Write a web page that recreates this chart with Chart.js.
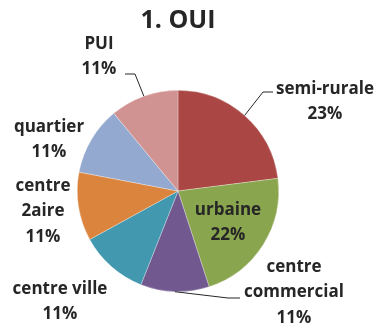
<!DOCTYPE html>
<html>
<head>
<meta charset="utf-8">
<script src="https://cdn.jsdelivr.net/npm/chart.js@4.4.1/dist/chart.umd.min.js"></script>
<style>
  html, body { margin: 0; padding: 0; background: #fff; }
  #wrap { width: 379px; height: 329px; }
</style>
</head>
<body>
<div id="wrap"><canvas id="pieOui"></canvas></div>
<script>
 // categories and shares (%)
 var categories = ["semi-rurale", "urbaine", "centre commercial", "centre ville", "centre 2aire", "quartier", "PUI"];
 var shares = [23, 22, 11, 11, 11, 11, 11];
 var sliceColors = ['#AA4643', '#89A54E', '#71588F', '#4198AF', '#DB843D', '#93A9CF', '#D19392'];

 // how each label is split on lines, where its text block sits, and its leader line
 var labelLines = [["semi-rurale"], ["urbaine"], ["centre", "commercial"], ["centre ville"], ["centre", "2aire"], ["quartier"], ["PUI"]];
 var labelPos = [[325, 89], [228, 210], [294, 267], [60, 289], [43, 186], [49, 127], [99, 44]];
 var leaders = [
   [[263, 92], [273, 92]],
   null,
   [[228, 298], [240, 298]],
   null, null, null,
   [[135, 74], [125, 74]]
 ];

 var FONT = 'bold 17px "Open Sans"';
 var INK = '#262626';

 var pieLabels = {
   id: 'pieLabels',
   afterDatasetsDraw: function(chart) {
     var ctx = chart.ctx;
     var meta = chart.getDatasetMeta(0);
     ctx.save();
     ctx.fillStyle = INK;
     ctx.textAlign = 'center';
     ctx.textBaseline = 'middle';
     ctx.font = 'bold 25px "Open Sans"';
     ctx.fillText("1. OUI", 178, 21);

     // leader lines from the middle of the slice edge
     ctx.strokeStyle = INK;
     ctx.lineWidth = 1;
     meta.data.forEach(function(arc, i) {
       if (!leaders[i]) return;
       var mid = (arc.startAngle + arc.endAngle) / 2;
       var x0 = arc.x + Math.cos(mid) * arc.outerRadius;
       var y0 = arc.y + Math.sin(mid) * arc.outerRadius;
       ctx.beginPath();
       ctx.moveTo(x0, y0);
       leaders[i].forEach(function(p) { ctx.lineTo(p[0], p[1]); });
       ctx.stroke();
     });

     ctx.font = FONT;
     categories.forEach(function(c, i) {
       var lines = labelLines[i].concat([shares[i] + '%']);
       var p = labelPos[i];
       lines.forEach(function(t, k) {
         ctx.fillText(t, p[0], p[1] + k * 25.5);
       });
     });
     ctx.restore();
   }
 };

 var ctxPie = document.getElementById("pieOui");
 var myPieChart = new Chart(ctxPie, {
   type: 'pie',
   data: {
     labels: categories,
     datasets: [{
       data: shares,
       backgroundColor: sliceColors,
       borderColor: 'rgba(255,255,255,0.6)',
       borderWidth: 0.5,
     }],
   },
   options: {
     responsive: true,
     maintainAspectRatio: false,
     animation: false,
     layout: {
       padding: { top: 90, bottom: 37, left: 77, right: 100 }
     },
     plugins: {
       legend: { display: false },
       tooltip: { enabled: false },
     }
   },
   plugins: [pieLabels]
 });
</script>
</body>
</html>
